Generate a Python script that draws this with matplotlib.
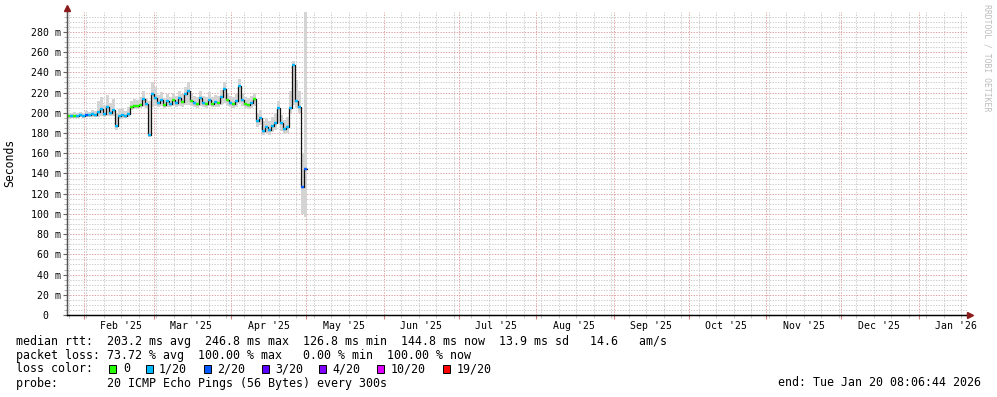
import numpy as np
import pandas as pd
import matplotlib
matplotlib.use('Agg')
import matplotlib.pyplot as plt
import matplotlib.dates as mdates
from matplotlib.patches import Rectangle
from matplotlib.lines import Line2D
from matplotlib.ticker import MultipleLocator, FuncFormatter

plt.rcParams['font.family'] = ['DejaVu Sans Mono']

# time range of the graph (last 360 days)
t_start = pd.Timestamp('2025-01-25 08:06:44')
t_end = pd.Timestamp('2026-01-20 08:06:44')
bin_len = pd.Timedelta(hours=28.8)

# median rtt per bin (ms)
median = [197, 197, 197, 197, 198, 197, 198, 198, 199, 198,
          201, 204, 199, 206, 200, 203, 187, 197, 198, 197,
          199, 206, 207, 207, 208, 214, 209, 178, 219, 215,
          210, 213, 208, 212, 209, 213, 210, 215, 211, 219,
          222, 212, 210, 209, 215, 210, 209, 213, 209, 211,
          210, 216, 224, 213, 210, 209, 212, 227, 213, 209,
          208, 210, 214, 192, 195, 182, 186, 183, 187, 190,
          205, 190, 184, 186, 205, 246.8, 212, 206, 126.8, 144.8]

# smoke envelope (ms)
smoke_hi = [200, 200, 201, 200, 201, 200, 202, 201, 203, 202,
            212, 216, 208, 218, 210, 214, 200, 204, 205, 202,
            206, 212, 214, 213, 216, 222, 215, 212, 230, 226,
            218, 221, 215, 219, 216, 220, 217, 222, 219, 226,
            230, 220, 217, 216, 222, 217, 216, 221, 216, 218,
            217, 223, 230, 220, 217, 216, 219, 233, 220, 216,
            215, 217, 220, 200, 203, 192, 195, 192, 196, 200,
            212, 198, 193, 196, 222, 251, 232, 222, 160, 300]
smoke_lo = [195, 195, 195, 195, 196, 195, 196, 196, 196, 196,
            196, 197, 196, 197, 197, 197, 183, 194, 195, 195,
            196, 203, 204, 204, 205, 206, 205, 176, 206, 207,
            206, 207, 205, 206, 206, 207, 206, 207, 206, 208,
            208, 207, 206, 205, 207, 206, 205, 207, 206, 206,
            206, 208, 210, 207, 206, 205, 206, 210, 207, 205,
            204, 205, 207, 186, 188, 178, 180, 178, 181, 183,
            190, 182, 179, 180, 200, 208, 205, 200, 100, 97]

# loss class per bin (index into loss_colors)
loss = [0, 1, 0, 1, 1, 1, 2, 1, 1, 1,
        1, 1, 1, 1, 1, 1, 1, 1, 1, 1,
        1, 0, 0, 0, 0, 1, 1, 1, 1, 1,
        1, 1, 0, 1, 1, 0, 1, 1, 0, 1,
        1, 0, 1, 0, 1, 1, 0, 1, 0, 1,
        0, 1, 1, 0, 1, 0, 1, 1, 1, 0,
        0, 1, 0, 1, 1, 1, 1, 1, 1, 1,
        1, 1, 1, 1, 1, 1, 1, 1, 2, 2]

loss_labels = ['0', '1/20', '2/20', '3/20', '4/20', '10/20', '19/20']
loss_colors = ['#26ff00', '#00b8ff', '#0059ff', '#5e00ff', '#7e00ff', '#dd00ff', '#ff0000']

legend_rtt = 'median rtt:  203.2 ms avg  246.8 ms max  126.8 ms min  144.8 ms now  13.9 ms sd   14.6   am/s'
legend_loss = 'packet loss: 73.72 % avg  100.00 % max   0.00 % min  100.00 % now'
legend_probe = 'probe:       20 ICMP Echo Pings (56 Bytes) every 300s'
legend_end = 'end: Tue Jan 20 08:06:44 2026'

W, H = 997, 397
def fx(px):
    return px / W
def fy(py):
    return 1 - py / H

fig = plt.figure(figsize=(W / 100, H / 100), dpi=100)
ax = fig.add_axes([fx(67), 82 / H, 900 / W, 303 / H])

edges = pd.date_range(t_start, periods=len(median) + 1, freq=bin_len)
en = mdates.date2num(edges)

# smoke
ax.fill_between(en, smoke_lo + [smoke_lo[-1]], smoke_hi + [smoke_hi[-1]],
                step='post', color='#d4d4d4', lw=0, zorder=2)
# median line, coloured by loss
ax.step(en, median + [median[-1]], where='post', color='#111111', lw=0.9, zorder=3)
ax.hlines(median, en[:-1], en[1:], colors=[loss_colors[k] for k in loss], lw=1.7, zorder=4)

ax.set_xlim(mdates.date2num(t_start), mdates.date2num(t_end))
ax.set_ylim(0, 299.7)

# grid
ax.xaxis.set_major_locator(mdates.MonthLocator(bymonthday=1))
ax.xaxis.set_minor_locator(mdates.WeekdayLocator(byweekday=mdates.SU))
ax.yaxis.set_major_locator(MultipleLocator(20))
ax.yaxis.set_minor_locator(MultipleLocator(5))
ax.set_axisbelow(True)
ax.grid(which='major', color='#e3a0a0', lw=0.7, linestyle=(0, (1.4, 1.4)))
ax.grid(which='minor', color='#cccccc', lw=0.7, linestyle=(0, (1.4, 1.4)))

ax.tick_params(axis='x', which='major', length=3, color='#d08080', labelbottom=False)
ax.tick_params(axis='x', which='minor', length=2, color='#bbbbbb')
ax.tick_params(axis='y', which='major', length=3, color='#666666', labelsize=7.1, pad=1.5)
ax.tick_params(axis='y', which='minor', length=2, color='#aaaaaa')
ax.yaxis.set_major_formatter(FuncFormatter(lambda v, p: '0  ' if v == 0 else '%d m' % v))

for s in ['top', 'right']:
    ax.spines[s].set_visible(False)
ax.spines['left'].set_color('#555555')
ax.spines['bottom'].set_color('#000000')

# month labels centred mid-month
sec = ax.secondary_xaxis('bottom')
sec.xaxis.set_major_locator(mdates.MonthLocator(bymonthday=16))
sec.xaxis.set_major_formatter(mdates.DateFormatter("%b '%y"))
sec.tick_params(length=0, labelsize=7.1, pad=4)
for s in sec.spines.values():
    s.set_visible(False)

# axis arrows
arrow_c = '#8b1a1a'
fig.add_artist(Line2D([fx(67), fx(67)], [fy(315), fy(8)], color='#555555', lw=1))
fig.add_artist(Line2D([fx(67), fx(970)], [fy(315), fy(315)], color='#000000', lw=1))
fig.add_artist(Line2D([fx(67)], [fy(8)], marker='^', ms=4.5, color=arrow_c, lw=0))
fig.add_artist(Line2D([fx(970)], [fy(315)], marker='>', ms=4.5, color=arrow_c, lw=0))

fig.text(fx(10), fy(163), 'Seconds', rotation=90, fontsize=8.3, ha='center', va='center')
fig.text(fx(987), fy(4), 'RRDTOOL / TOBI OETIKER', rotation=270, fontsize=5.9,
         color='#bdbdbd', ha='center', va='top')

# legend block
fs = 8.4
fig.text(fx(16), fy(341), legend_rtt, fontsize=fs, va='center')
fig.text(fx(16), fy(355), legend_loss, fontsize=fs, va='center')
fig.text(fx(16), fy(369), 'loss color:', fontsize=fs, va='center')
sq_x = [109, 146, 204, 262, 319, 377, 443]
lab_x = [123, 159, 217, 275, 332, 391, 457]
for c, lab, sx, lx in zip(loss_colors, loss_labels, sq_x, lab_x):
    fig.add_artist(Rectangle((fx(sx), fy(372.5)), 7 / W, 8 / H, transform=fig.transFigure,
                             facecolor=c, edgecolor='black', lw=0.7))
    fig.text(fx(lx), fy(369), lab, fontsize=fs, va='center')
fig.text(fx(16), fy(383), legend_probe, fontsize=fs, va='center')
fig.text(fx(981), fy(383), legend_end, fontsize=fs, va='center', ha='right')

fig.savefig('out.png', dpi=100, facecolor='white')
